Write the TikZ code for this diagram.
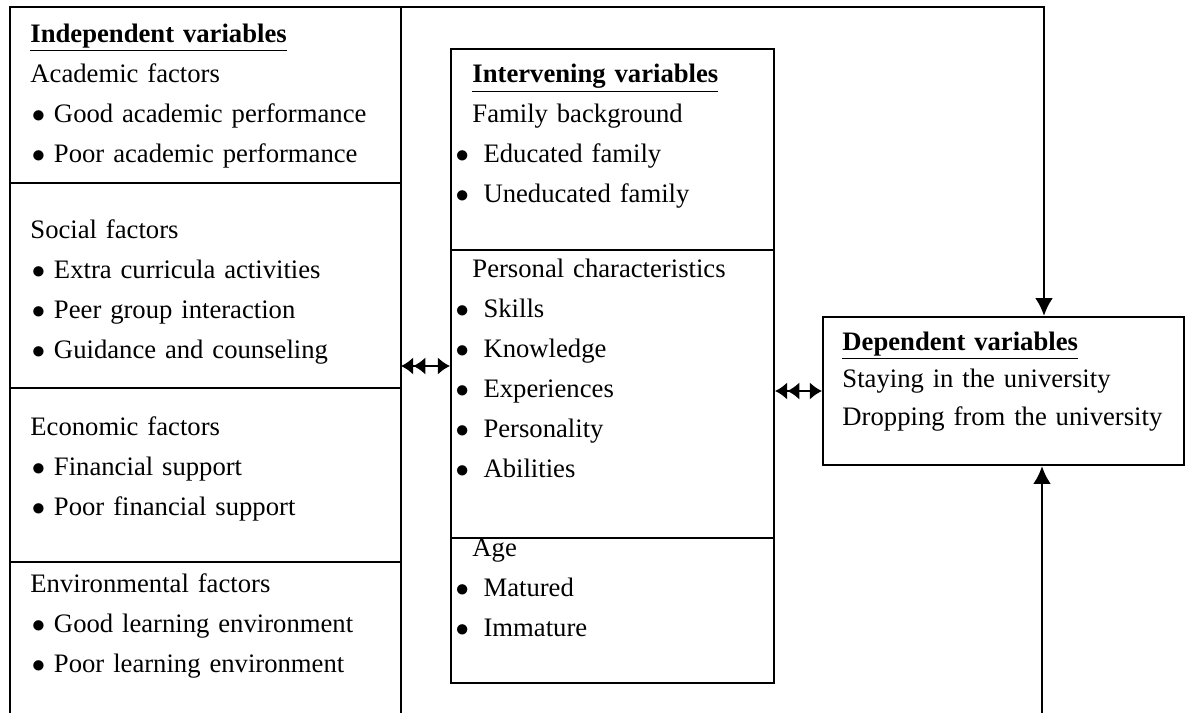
\documentclass[tikz,border=0pt]{standalone}
\usepackage{fontspec}
\setmainfont{Liberation Serif}
\usepackage{tikz}
\usetikzlibrary{positioning, arrows.meta}
\newcommand{\bul}{\hspace*{0.6pt}\makebox[10pt][l]{$\bullet$}}
\newcommand{\bulw}{\hspace*{-7.6pt}\makebox[12.6pt][l]{$\bullet$}}
\newcommand{\head}[1]{\underline{\textbf{#1}}}

\begin{document}
\begin{tikzpicture}
            [x=0.45pt, y=-0.45pt,
              frame/.style={draw=black, line width=0.9pt},
              txt/.style={anchor=base west, inner sep=0pt, align=left,
                text width=170pt, font=\fontsize{12}{18}\selectfont},
              ->/.style={line width=1.3pt, arrows={-Latex[length=8pt, width=8pt]}},
              dbl/.style={line width=1.3pt, >={Latex[length=5.5pt, width=8pt]},
                arrows={<<->}}]
            \useasboundingbox (0,0) rectangle (1188,713);
            % left frame, open at the bottom
            \coordinate (ind-ne) at (401,7);
            \draw[frame] (10,713) -- (10,7) -- (ind-ne) -- (401,713);
            \draw[frame] (10,183) -- (401,183);
            \draw[frame] (10,388) -- (401,388);
            \draw[frame] (10,562) -- (401,562);
            \node[txt] (acad) at (30,42) {\head{Independent variables}\\
              Academic factors\\ \bul Good academic performance\\
              \bul Poor academic performance};
            \node[txt] (soc) at (30,238) {Social factors\\
              \bul Extra curricula activities\\ \bul Peer group interaction\\
              \bul Guidance and counseling};
            \node[txt] (econ) at (30,435) {Economic factors\\
              \bul Financial support\\ \bul Poor financial support};
            \node[txt] (envi) at (30,592) {Environmental factors\\
              \bul Good learning environment\\ \bul Poor learning environment};
            % middle box
            \node[frame, anchor=north west, inner sep=0pt,
              minimum width=145.35pt, minimum height=285.3pt] (interv) at (450,48) {};
            \draw[frame] (interv.west |- 0,250) -- (interv.east |- 0,250);
            \draw[frame] (interv.west |- 0,538) -- (interv.east |- 0,538);
            \node[txt] (fam) at (472,82) {\head{Intervening variables}\\
              Family background\\ \bulw Educated family\\ \bulw Uneducated family};
            \node[txt] (pers) at (472,277) {Personal characteristics\\
              \bulw Skills\\ \bulw Knowledge\\ \bulw Experiences\\
              \bulw Personality\\ \bulw Abilities};
            \node[txt] (age) at (472,556) {Age\\ \bulw Matured\\ \bulw Immature};
            % dependent box
            \node[frame, anchor=north west, inner sep=0pt,
              minimum width=162.45pt, minimum height=66.6pt] (dep) at (822,316) {};
            \node[txt, font=\fontsize{12}{17}\selectfont] (dtxt) at (842,350)
              {\head{Dependent variables}\\ Staying in the university\\
              Dropping from the university};
            % connectors
            \coordinate (drop) at (1044,7);
            \coordinate (rise) at (1042,713);
            \draw[->] (ind-ne) -- (drop) -- (drop |- dep.north);
            \draw[->] (rise) -- (rise |- dep.south);
            \draw[dbl] (interv.west -| ind-ne) -- (interv.west);
            \draw[dbl] (interv.east |- dep.west) -- (dep.west);
        \end{tikzpicture}
\end{document}
